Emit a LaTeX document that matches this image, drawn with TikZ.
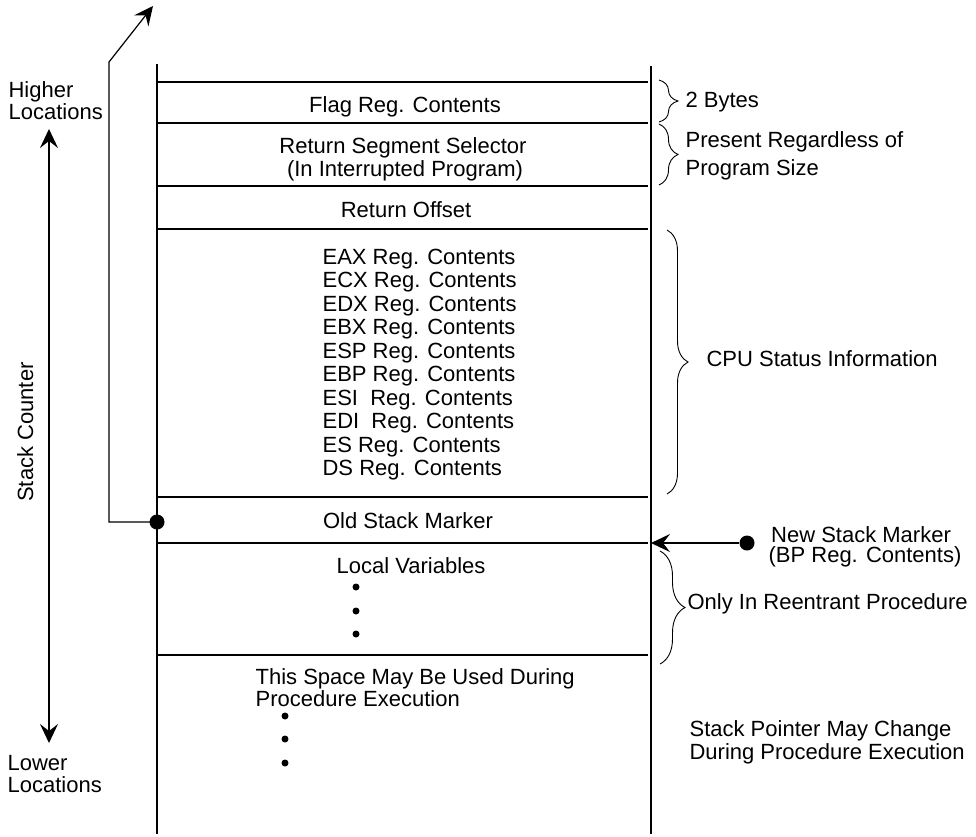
\documentclass[tikz,border=0pt]{standalone}
\usepackage{fontspec}
\setmainfont{Liberation Sans}
\usetikzlibrary{arrows.meta,decorations.pathreplacing}
\begin{document}
\begin{tikzpicture}[x=1pt,y=-1pt, line width=1.2pt,
  txt/.style={inner sep=0pt, font=\fontsize{22}{23.5}\selectfont},
  arr/.style={-{Stealth[length=19pt,width=18pt,inset=7pt]}},
  darr/.style={{Stealth[length=19pt,width=18pt,inset=7pt]}-{Stealth[length=19pt,width=18pt,inset=7pt]}},
  brc/.style={decorate, decoration={brace, amplitude=#1}, line width=0.9pt},
  bigdot/.style={circle, fill, inner sep=0pt, minimum size=15pt},
  smalldot/.style={circle, fill, inner sep=0pt, minimum size=7pt}]
\useasboundingbox (0,0) rectangle (976,836);

% stack walls
\draw (157,64) -- (157,834);
\draw (651,66) -- (651,834);
\foreach \y in {82,123,186,229,497,543,655} \draw (158,\y) -- (648,\y);

% cell texts
\node[txt, anchor=base] (flag) at (405,112) {Flag Reg. Contents};
\node[txt, anchor=base] (rss) at (403,153) {Return Segment Selector};
\node[txt, anchor=base] (rss2) at (405,176) {(In Interrupted Program)};
\node[txt, anchor=base] (roff) at (406,217) {Return Offset};
\node[txt, anchor=base west] (eax) at (322,264) {EAX Reg. Contents};
\node[txt, anchor=base west] (ecx) at (322,287.5) {ECX Reg. Contents};
\node[txt, anchor=base west] (edx) at (322,311) {EDX Reg. Contents};
\node[txt, anchor=base west] (ebx) at (322,334.5) {EBX Reg. Contents};
\node[txt, anchor=base west] (esp) at (322,358) {ESP Reg. Contents};
\node[txt, anchor=base west] (ebp) at (322,381.5) {EBP Reg. Contents};
\node[txt, anchor=base west] (esi) at (322,405) {ESI\ \ Reg. Contents};
\node[txt, anchor=base west] (edi) at (322,428.5) {EDI\ \ Reg. Contents};
\node[txt, anchor=base west] (es) at (322,452) {ES Reg. Contents};
\node[txt, anchor=base west] (ds) at (322,475.5) {DS Reg. Contents};
\node[txt, anchor=base] (old) at (408,528) {Old Stack Marker};
\node[txt, anchor=base] (loc) at (411,573) {Local Variables};
\node[smalldot] (ld1) at (356,587) {};
\node[smalldot] (ld2) at (356,611) {};
\node[smalldot] (ld3) at (356,634) {};
\node[txt, anchor=base west] (sp1) at (255,684) {This Space May Be Used During};
\node[txt, anchor=base west] (sp2) at (255,706) {Procedure Execution};
\node[smalldot] (sd1) at (285,716) {};
\node[smalldot] (sd2) at (285,739) {};
\node[smalldot] (sd3) at (285,763) {};

% left side
\node[txt, anchor=base west] (hi1) at (8,97) {Higher};
\node[txt, anchor=base west] (hi2) at (8,119) {Locations};
\node[txt, anchor=base west] (lo1) at (7,770) {Lower};
\node[txt, anchor=base west] (lo2) at (7,792) {Locations};
\node[txt, anchor=base, rotate=90] (sc) at (33,432) {Stack Counter};
\coordinate (sctop) at (49,129);
\coordinate (scbot) at (49,743);
\draw[darr] (sctop) -- (scbot);

% old stack marker link
\coordinate (bend1) at (109,522);
\coordinate (bend2) at (109,62);
\coordinate (uptip) at (153,6);
\draw[arr] (157,522) -- (bend1) -- (bend2) -- (uptip);
\node[bigdot] (osm) at (157,522) {};

% new stack marker
\node[bigdot] (nsm) at (747,543) {};
\coordinate (rwall) at (651,543);
\draw[arr] (nsm) -- (rwall);
\node[txt, anchor=base] (nsm1) at (861,542) {New Stack Marker};
\node[txt, anchor=base] (nsm2) at (865,562) {(BP Reg. Contents)};

% braces
\draw[brc=19] (659,80) -- (659,122);
\node[txt, anchor=base west] (b2) at (685,107) {2 Bytes};
\draw[brc=19] (659,124) -- (659,185);
\node[txt, anchor=base west] (pr1) at (685,147) {Present Regardless of};
\node[txt, anchor=base west] (pr2) at (685,175) {Program Size};
\draw[brc=21] (667,230) -- (667,494);
\node[txt, anchor=base west] (cpu) at (706,366) {CPU Status Information};
\draw[brc=25] (660,551) -- (660,664);
\node[txt, anchor=base west] (only) at (687,609) {Only In Reentrant Procedure};

% right bottom note
\node[txt, anchor=base west] (spm1) at (689,736) {Stack Pointer May Change};
\node[txt, anchor=base west] (spm2) at (689,759) {During Procedure Execution};
\end{tikzpicture}
\end{document}
